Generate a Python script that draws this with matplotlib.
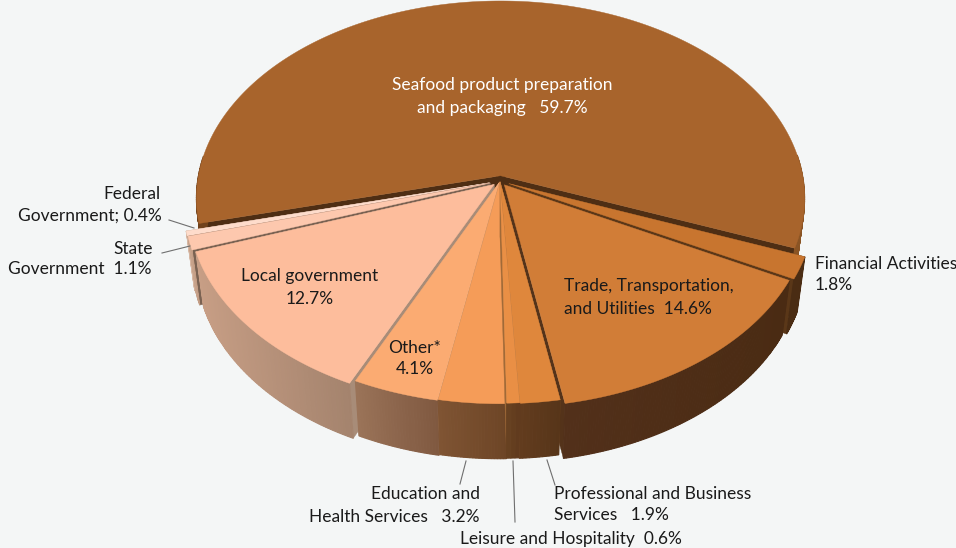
"""
Employment by sector drawn as an exploded 3D-style pie chart
"""

import numpy as np
import matplotlib
matplotlib.use('Agg')
import matplotlib.pyplot as plt
from matplotlib.colors import to_rgb
from matplotlib.patches import Polygon

# Sector shares in percent, in the order they run clockwise around the pie
sectors = ['Seafood', 'Financial', 'Trade', 'Professional', 'Leisure',
           'Education', 'Other', 'Local', 'State', 'Federal']
shares = [59.7, 1.8, 14.6, 1.9, 0.6, 3.2, 4.1, 12.7, 1.1, 0.4]

top_colors = ['#a8642c', '#c8752f', '#d17d37', '#df873c', '#e98f45',
              '#f59c58', '#fbab72', '#fdbd9c', '#fdc8ae', '#fedccb']
wall_left = ['#70421c', '#4a2c13', '#52301a', '#623c1e', '#694222',
             '#7f5433', '#9a7358', '#c79e85', '#c9a48c', '#d8b8a4']
wall_right = ['#8a5424', '#4a2c13', '#4a2b13', '#573519', '#5f3a1d',
              '#6d4526', '#7f5840', '#a4836d', '#c09a82', '#d0b09c']
gap_colors = ['#4e2e14', '#5a3718', '#54331a', '#8f5c2e', '#a06a38',
              '#b98a64', '#b59078', '#a88c78', '#7a6252', '#b89a88']
explode = [0.027, 0.032, 0.024, 0.005, 0.003, 0.005, 0.008, 0.026, 0.034, 0.036]

start_angle = 193.8

# Perspective of the disc on the page
CX, CY = 500, 181
RX, RY = 303, 196
TILT = 0.115
DEPTH = 55
BOTTOM_SHRINK = 0.975


def project(u, v, lower=False):
    """Map points of the unit disc onto the page, lower=True for the bottom face"""
    w = 1 + TILT * v
    x = RX * u / w
    y = CY - RY * v / w
    if lower:
        return CX + x * BOTTOM_SHRINK, y + DEPTH
    return CX + x, y


def draw_slice(ax, t1, t2, off, top, left, right, gap):
    """Draw one slice from angle t1 clockwise down to t2 (degrees)"""
    mid = np.radians((t1 + t2) / 2)
    ex, ey = off * np.cos(mid), off * np.sin(mid)
    n = max(int(abs(t1 - t2) * 2), 4)
    angles = np.radians(np.linspace(t1, t2, n))
    u = ex + np.cos(angles)
    v = ey + np.sin(angles)

    # Radial walls seen through the gaps between slices
    for i in (0, -1):
        ux = np.array([ex, u[i]])
        vy = np.array([ey, v[i]])
        xa, ya = project(ux, vy)
        xb, yb = project(ux, vy, lower=True)
        ax.add_patch(Polygon(np.column_stack([np.r_[xa, xb[::-1]], np.r_[ya, yb[::-1]]]),
                             facecolor=gap, edgecolor=gap, linewidth=0.3))

    # Outer wall, shaded along the rim
    xa, ya = project(u, v)
    xb, yb = project(u, v, lower=True)
    c_left, c_right = np.array(to_rgb(left)), np.array(to_rgb(right))
    order = np.argsort(xa)
    span = max(xa[order[-1]] - xa[order[0]], 1)
    for i in range(n - 1):
        if np.sin(angles[i]) > 0.1 and np.sin(angles[i + 1]) > 0.1:
            continue
        f = ((xa[i] + xa[i + 1]) / 2 - xa[order[0]]) / span
        col = c_left + (c_right - c_left) * f
        ax.add_patch(Polygon([(xa[i], ya[i]), (xa[i + 1], ya[i + 1]),
                              (xb[i + 1], yb[i + 1]), (xb[i], yb[i])],
                             facecolor=col, edgecolor=col, linewidth=0.8))

    # Top face
    xc, yc = project(np.array([ex]), np.array([ey]))
    ax.add_patch(Polygon(np.column_stack([np.r_[xc, xa], np.r_[yc, ya]]),
                         facecolor=top, edgecolor=top, linewidth=0.3))


fig = plt.figure(figsize=(9.56, 5.48), dpi=100, facecolor='#f4f6f6')
ax = fig.add_axes([0, 0, 1, 1])
ax.set_xlim(0, 956)
ax.set_ylim(548, 0)
ax.axis('off')

plt.rcParams['font.family'] = ['Lato', 'DejaVu Sans']

# Work out the slice angles, going clockwise from the start angle
fractions = np.array(shares) / sum(shares) * 360
ends = start_angle - np.cumsum(fractions)
begins = np.r_[start_angle, ends[:-1]]
# Back slices first so the nearer ones paint over them
mid_sin = np.sin(np.radians((begins + ends) / 2))
order = sorted(range(len(shares)), key=lambda i: -mid_sin[i])

for i in order:
    draw_slice(ax, begins[i], ends[i], explode[i], top_colors[i],
               wall_left[i], wall_right[i], gap_colors[i])

# Dark core where the slices meet
ax.plot([CX], [CY - 1], marker='o', markersize=8, color='#4e2e14', zorder=0.9)

# Leader lines for the small slices
leaders = [((169, 220), (194, 228)), ((162, 253), (190, 246)),
           ((466, 461), (460, 484)), ((513, 461), (515, 522)),
           ((547, 460), (555, 485))]
for p, q in leaders:
    ax.plot([p[0], q[0]], [p[1], q[1]], color='#6f6f6f', linewidth=0.8)

FS = 12.5
dark = '#1a1a1a'


def label(x, y, s, ha='center', color=dark):
    ax.text(x, y, s, ha=ha, va='center', fontsize=FS, color=color)


label(502, 85, 'Seafood product preparation', color='white')
label(502, 108, f'and packaging   {shares[0]}%', color='white')
label(161, 194, 'Federal', ha='right')
label(162, 216, f'Government; {shares[9]}%', ha='right')
label(153, 249, 'State', ha='right')
label(152, 269, f'Government  {shares[8]}%', ha='right')
label(310, 276, 'Local government')
label(310, 299, f'{shares[7]}%')
label(415, 348, 'Other*')
label(415, 369, f'{shares[6]}%')
label(564, 286, 'Trade, Transportation,', ha='left')
label(564, 309, f'and Utilities  {shares[2]}%', ha='left')
label(815, 264, 'Financial Activities', ha='left')
label(815, 285, f'{shares[1]}%', ha='left')
label(480, 494, 'Education and', ha='right')
label(480, 517, f'Health Services   {shares[5]}%', ha='right')
label(554, 494, 'Professional and Business', ha='left')
label(554, 515, f'Services   {shares[3]}%', ha='left')
label(460, 539, f'Leisure and Hospitality  {shares[4]}%', ha='left')

fig.savefig('out.png', dpi=100, facecolor=fig.get_facecolor())
